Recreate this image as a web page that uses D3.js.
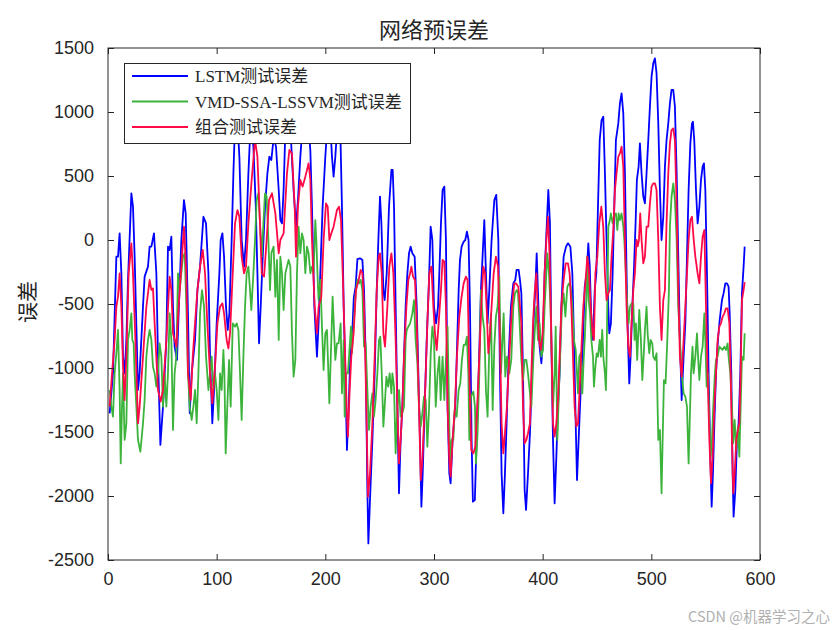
<!DOCTYPE html>
<html>
<head>
<meta charset="utf-8">
<script src="https://cdn.jsdelivr.net/npm/d3@7"></script>
<style>
  body { margin: 0; background: #fff; }
  svg text { fill: #262626; }
</style>
</head>
<body>
<div id="chart"></div>
<script>
// error series as [sample index, error]
const lstmErr = [
  [1.5,-1354],[4.6,-1042],[6.7,-417],[7.7,-130],[9.2,-130],[10.7,52],[12.3,-260],[13.8,-911],[15.3,-1042],[16.9,-781],[18.4,-312],[21.5,365],[23,260],[24.5,-130],[27.6,-1172],[29.1,-1042],[32.2,-521],[33.7,-286],[36.8,-208],[38.3,-52],[39.9,-52],[42.3,52],[44.5,-260],[46,-911],[48.2,-1601],[50.6,-1302],[53.7,-781],[55.2,-52],[56.7,-78],[58.3,26],[59.8,-521],[61.3,-833],[63.5,-937],[65,-573],[67.5,0],[69.9,312],[71.5,208],[73.6,-573],[75.2,-1354],
  [77,-1042],[80.1,-781],[82.3,-391],[84.7,-208],[87.8,182],[90.2,130],[92.4,-260],[93.9,-911],[96,-1432],[97.6,-1172],[100,-651],[102.5,-260],[103.7,0],[105.3,52],[106.8,-130],[108.6,-521],[110.2,-703],[111.7,-573],[113.8,0],[115.4,521],[116.9,911],[118.4,1050],[120.9,650],[123,0],[125.2,-208],[127,0],[129.2,521],[131.3,920],[133.8,730],[136,260],[137.5,-260],[139,-807],[140.5,-521],[142.4,-130],[144.5,260],[146.7,521],[148.5,651],[150.3,625],
  [152.5,800],[154.6,729],[157.1,391],[158.6,156],[160.1,130],[161.6,391],[163.2,850],[165.6,1000],[168,850],[170.8,391],[173,104],[174.8,312],[177,651],[179.1,900],[181.6,950],[184.6,880],[186.2,700],[187.7,260],[189.9,-521],[192.3,-911],[193.8,-651],[195.4,-260],[197.5,260],[200,651],[201.5,850],[204.6,900],[206.1,651],[207.6,495],[209.2,651],[210.7,850],[213.8,850],[215.3,260],[216.9,-521],[218.4,-1042],[219.9,-1640],[221.5,-1302],[223,-911],[224.5,-781],
  [226.2,-450],[227.9,-365],[229.5,-150],[231.9,-143],[234.1,-156],[235.6,-391],[237.1,-911],[238.7,-1953],[239.6,-2370],[241.1,-2031],[243.3,-1562],[245.4,-1042],[247.3,-391],[248.8,0],[250.3,339],[251.6,130],[253.4,-391],[254.6,-469],[256.5,-260],[258.6,260],[260.8,547],[262,547],[263.2,260],[264.7,-521],[266.3,-1302],[267.8,-1979],[269.3,-1562],[270.9,-1302],[272.4,-911],[273.9,-521],[275.5,-260],[277,-104],[278.5,-52],[280.1,-104],[282.2,-130],[284.1,-521],[285.6,-1042],[287.1,-1562],[288.4,-2083],[289.6,-1823],[291.4,-1302],[293.3,-781],[295.4,-312],[296.9,104],[298.5,0],[300,-521],
  [301.9,-651],[303.7,-521],[304.9,-260],[306.4,130],[307.9,391],[309.5,417],[311,0],[312.5,-1302],[314.1,-1823],[315.3,-1901],[317.1,-1562],[319.6,-1302],[321.4,-781],[322.7,-391],[323.9,-156],[325.4,-52],[327.3,-13],[328.8,0],[330.3,65],[331.8,0],[333.1,-521],[334.6,-1562],[335.8,-2044],[337.6,-2031],[339.2,-1562],[341.1,-1042],[343.2,-391],[344.7,-130],[346.3,156],[347.8,-260],[349.3,-651],[350.9,-391],[353,0],[355.5,312],[357.3,352],[359.2,0],[360.7,-1042],[362.2,-1823],[363.8,-2135],[365.3,-1823],[366.8,-1432],[368.7,-911],[370.8,-521],[373,-339],[374.8,-312],[376,-234],
  [377.9,-234],[379.1,-312],[380.4,-417],[381.9,-1042],[383.4,-1953],[384.7,-2109],[386.5,-1823],[388.3,-1510],[390.2,-1042],[391.7,-625],[393.2,-391],[394.5,-104],[395.7,-417],[397.2,-833],[398.8,-963],[400.3,-781],[401.8,-260],[403.7,104],[405.2,391],[406.7,130],[408,-781],[409.5,-1562],[411,-2057],[412.6,-1693],[414.1,-1302],[415.6,-1042],[417.2,-521],[419.3,-130],[421.5,-52],[423.3,-26],[425.5,-52],[427.3,-260],[428.8,-781],[430.4,-1432],[431.6,-1875],[433.1,-1562],[435,-1172],[437.1,-781],[438.7,-365],[440.5,-260],[442,-26],[443.3,-200],[444.8,-625],[446.3,-781],[447.9,-391],[449.4,-260],[450.9,260],[452.5,781],
  [454.2,937],[455.8,963],[457.3,521],[458.8,0],[460.4,-521],[461.3,-729],[462.8,-651],[464.4,-260],[465.9,260],[467.4,781],[469.6,911],[471.1,1068],[472.6,1146],[474.2,989],[475.7,521],[477.2,-260],[478.5,-781],[479.7,-1120],[480.9,-911],[482.5,-521],[484,-234],[485.5,130],[486.7,469],[488.3,573],[489.5,755],[491,521],[492.6,339],[494.1,286],[495.6,521],[497.2,781],[498.7,1042],[500.2,1276],[501.8,1380],[503.3,1419],[504.8,1302],[506.4,911],[507.9,391],[509.4,0],[511,182],[512.5,573],[514,781],[515.6,911],[517.1,1068],[518.6,1172],[520.2,1172],[521.7,1042],[523.3,521],[524.8,-130],[526.3,-781],[527.9,-1250],
  [529.7,-911],[531.3,-651],[532.8,-130],[534.3,391],[535.9,755],[537.4,911],[538.3,924],[539.5,781],[541.1,391],[542.6,130],[544.2,260],[545.7,469],[547.2,573],[548.4,599],[549.7,391],[551.2,-260],[552.7,-1042],[554.3,-1693],[555.5,-2083],[556.7,-1823],[558,-1432],[559.5,-1042],[561.3,-781],[562.9,-625],[565,-469],[566.5,-417],[568.1,-339],[569.6,-339],[571.1,-365],[572.1,-573],[573.6,-1042],[574.8,-1823],[575.7,-2161],[577.3,-1953],[578.8,-1562],[580.3,-1432],[581.9,-1042],[583.4,-417],[584.9,-208],[585.9,-52]
];

const vmdErr = [
  [1.5,-1172],[3.1,-1302],[4.6,-1380],[6.1,-1042],[7.7,-885],[9.2,-703],[10.7,-1172],[11.7,-1745],[12.9,-1302],[13.8,-1042],[15.3,-1562],[16.9,-1432],[18.4,-781],[19.9,-703],[21.5,-573],[22.4,-781],[23.6,-807],[24.5,-1042],[26.1,-1302],[27.6,-1562],[29.8,-1654],[32.2,-1432],[33.7,-1250],[35.3,-911],[36.8,-781],[38.3,-703],[39.9,-781],[41.4,-990],[42.9,-1042],[44.5,-1146],[46,-1042],[47.5,-807],[49.1,-911],[50.6,-1302],[52.1,-1042],[53.7,-1302],[55.2,-1042],[56.7,-573],[58.3,-781],[59.8,-1484],[61.3,-1042],[62.9,-911],[64.4,-260],[66,-391],[67.5,-260],[69,-130],[70.6,-104],[72.1,-521],[73.6,-1042],[75.2,-1302],
  [77,-1406],[78.6,-1300],[80.1,-1172],[81.6,-1432],[83.2,-1042],[84.7,-573],[86.5,-391],[88.4,-521],[90.2,-911],[92.4,-1172],[93.9,-1042],[95.4,-911],[97,-1172],[98.5,-1042],[100,-1172],[101.6,-1406],[103.1,-1042],[104.6,-1172],[106.2,-859],[107.1,-1042],[108.3,-1667],[109.8,-1302],[111.4,-937],[112.9,-1302],[114.8,-651],[116.9,-677],[118.4,-651],[120,-703],[121.5,-1042],[123,-1406],[124.6,-911],[126.1,-521],[127.6,-260],[129.2,-208],[130.7,-391],[131.9,-547],[133.8,-260],[135.3,0],[136.8,312],[138.4,365],[139.9,130],[141.5,-130],[143,130],[144.5,365],[146,339],[147.6,0],[149.1,-391],[150.4,-100],
  [152.4,-52],[154,-443],[155.5,-156],[157.1,-781],[158.6,-130],[160.1,-260],[161.6,-547],[163.2,-260],[164.7,-208],[166.2,-156],[167.8,-208],[169.3,-729],[170.8,-1068],[172.4,-937],[173.9,-260],[175.4,104],[177,-104],[178.5,52],[180,0],[181.6,-260],[183.1,-52],[184.6,-104],[186.2,-260],[187.7,-208],[189.2,-260],[190.8,156],[191.7,0],[193,-312],[193.8,-469],[195.4,-312],[196.9,-677],[198.4,-1016],[200,-729],[201.5,-703],[203.7,-1276],[205.5,-781],[206.7,-443],[208,-703],[209.2,-937],[210.7,-807],[212.2,-807],[214.1,-651],[215.3,-1198],[216.9,-781],[217.8,-1380],[219,-1042],[220.8,-1042],[222,-885],[223.6,-677],[224.5,-885],[226,-677],
  [227.9,-417],[229.5,-312],[231,-339],[232.5,-312],[234.1,-391],[235.6,-833],[237.1,-807],[238.7,-1172],[240.2,-1484],[241.7,-1302],[243.3,-1198],[244.8,-1380],[246.3,-1250],[247.9,-1042],[249.4,-781],[250.6,-755],[251.9,-1042],[253.4,-1458],[254.6,-1302],[256.2,-1068],[257.7,-1146],[259.2,-1042],[260.8,-1198],[261.7,-1042],[263.2,-1146],[264.7,-1667],[266.3,-1302],[267.8,-1172],[269.3,-1380],[270.9,-1354],[272.4,-1302],[273.9,-781],[274.9,-703],[276.4,-677],[278,-651],[280.1,-573],[281.6,-469],[283.1,-781],[284.7,-963],[286.2,-1302],[287.8,-1458],[289.3,-1354],[290.8,-1224],[292.4,-1250],[293.9,-1615],[295.4,-1328],[297,-885],[298.5,-677],[300,-781],[301.6,-1302],
  [303.3,-1042],[304.9,-911],[306.1,-1250],[307.9,-911],[309.5,-1250],[311,-937],[312.5,-677],[314.7,-1745],[316.2,-1562],[317.8,-1562],[319,-1328],[320.8,-1380],[322.7,-1172],[324.2,-1120],[325.7,-937],[327.3,-820],[328.8,-820],[330.3,-755],[331.6,-1042],[332.5,-1562],[334,-1224],[336.2,-1185],[337.7,-1302],[338.6,-1745],[340.1,-1510],[341.7,-1042],[343.2,-391],[344.7,-599],[346.3,-703],[347.8,-1172],[349.3,-1380],[350.9,-833],[352.4,-573],[354,-1328],[355.5,-833],[357,-599],[358.5,-521],[360.1,-286],[361.6,-1042],[364.1,-573],[365.6,-1068],[367.1,-911],[369.3,-1042],[371.1,-937],[373,-521],[374.5,-417],[376.3,-391],
  [377.3,-417],[378.8,-651],[380.4,-937],[381.9,-1094],[383.4,-937],[385,-937],[386.5,-1042],[388,-1172],[389.6,-1302],[391.1,-990],[392.6,-729],[394.2,-521],[395.7,-781],[397.2,-651],[398.8,-911],[400.3,-859],[401.8,-521],[403.4,-260],[404.3,-104],[405.8,-260],[407,-469],[408,-781],[409.5,-1302],[411,-1042],[412,-677],[413.5,-1562],[415,-1172],[416.6,-781],[417.8,-521],[419.3,-417],[420.9,-599],[422.7,-365],[424.2,-339],[425.8,-365],[427.3,-521],[428.8,-781],[430.4,-859],[431.6,-1042],[432.5,-1198],[433.7,-911],[435,-885],[436.5,-1198],[437.7,-937],[438.7,-781],[440.2,-469],[441.1,-130],[442.3,-469],[443.6,-573],[444.8,-781],[446.3,-911],[447.2,-1146],[448.5,-990],[449.7,-885],[450.9,-911],[452.5,-781],
  [453.6,-911],[454.8,-703],[455.8,-911],[457.3,-1042],[458.2,-1172],[458.8,-937],[460.4,104],[461.9,156],[462.8,208],[464.4,130],[465.6,182],[467.4,208],[468.7,78],[469.9,208],[471.1,156],[472.6,208],[474.2,104],[475.1,0],[476.6,-260],[477.9,-521],[479.1,-651],[480.3,-521],[481.8,-495],[483.4,-495],[484.6,-781],[485.8,-651],[487,-937],[488.9,-547],[490.4,-781],[491.7,-1094],[492.9,-911],[494.1,-703],[495.6,-521],[496.6,-729],[498.1,-885],[499.3,-781],[500.9,-807],[501.8,-911],[503.3,-937],[504.8,-885],[506.4,-1562],[507.9,-1484],[509.4,-1979],[510.4,-1562],[511.6,-1094],[513.1,-1120],[514.7,-781],[516.2,-391],[517.1,104],[518.6,339],[520.2,443],[521.7,312],[523.3,0],[524.8,-521],[526.3,-781],[527.9,-1042],
  [529.7,-1198],[531.3,-1224],[532.8,-1302],[534.3,-1745],[535.3,-1432],[536.5,-1042],[537.9,-833],[538.9,-1042],[540.5,-911],[542,-729],[543,-911],[544.2,-1094],[545.7,-911],[547.2,-833],[548.8,-573],[549.7,-781],[550.9,-1146],[552.1,-1042],[553.4,-1432],[554.6,-1693],[555.8,-1562],[557,-1302],[558.3,-1068],[559.5,-937],[561,-911],[562.6,-833],[564.1,-846],[565.6,-859],[567.2,-833],[568.7,-859],[570.2,-807],[571.1,-911],[572.7,-1042],[574.2,-1302],[575.4,-1588],[576.7,-1406],[578.2,-1640],[579.7,-1458],[581,-1693],[582.2,-1302],[583.4,-911],[584.9,-937],[585.9,-729]
];

const comboErr = [
  [1.5,-1302],[3.7,-1042],[6.1,-781],[7.7,-521],[9.2,-443],[10.7,-260],[12.3,-521],[13.8,-990],[15.3,-1250],[16.9,-911],[19,-260],[21.5,-26],[23,-260],[25.2,-781],[27.6,-1432],[29.1,-1302],[32.2,-911],[35.3,-521],[38.3,-312],[39.9,-390],[41.4,-378],[42.9,-651],[46,-1172],[48.5,-1263],[50.6,-1172],[53.7,-781],[56.7,-286],[58.3,-390],[59.8,-729],[62.9,-833],[65,-521],[67.5,-208],[69.9,104],[72.1,-260],[73.6,-1042],[76.1,-1250],
  [78,-911],[80.1,-651],[82.3,-391],[84.7,-208],[87.2,-78],[89.3,-260],[91.4,-651],[93.9,-1042],[96,-1276],[98.5,-990],[100.7,-651],[103.1,-521],[105.3,-495],[106.8,-573],[109.2,-781],[110.8,-846],[112.3,-729],[114.8,-260],[116.9,130],[119.1,234],[120.9,182],[123,-130],[125.2,-260],[127,-208],[129.2,130],[132.2,469],[135.3,781],[137.5,651],[139.3,260],[141.5,-260],[143.6,-286],[146,0],[148.2,312],[150.9,365],
  [154,208],[157.1,-104],[158.6,0],[161.6,52],[164.7,521],[166.9,703],[169.3,677],[171.8,260],[173,-130],[174.8,260],[177,469],[179.1,417],[181.6,495],[184.6,599],[186.2,469],[187.7,0],[190.2,-521],[192.3,-729],[193.8,-521],[196.3,-443],[198.4,0],[200.6,286],[202.2,260],[203.7,0],[205.5,52],[207.6,104],[210.7,234],[212.6,260],[214.4,156],[216,-260],[217.8,-781],[219.6,-1302],[220.8,-1536],[222.4,-1172],[223.9,-911],[226,-729],
  [228.2,-391],[230.7,-312],[232.5,-234],[234.1,-260],[235.6,-521],[237.1,-1042],[239.3,-2005],[241.1,-1823],[243.3,-1432],[245.4,-911],[247.3,-391],[249.1,-130],[250.3,-104],[251.9,-260],[253.4,-729],[254.9,-833],[257.1,-521],[258.9,-208],[260.8,-104],[262.6,-260],[264.7,-781],[266.3,-1302],[267.8,-1745],[269.3,-1562],[270.9,-1302],[272.4,-911],[274.6,-521],[276.4,-312],[278,-260],[279.2,-208],[280.7,-286],[282.5,-312],[284.1,-651],[286.2,-1302],[287.8,-1875],[289.3,-1719],[291.4,-1302],[293.9,-651],[295.7,-260],[297.6,-208],[299.4,-521],[300.9,-729],
  [302.5,-860],[304.9,-573],[306.4,-391],[307.9,-156],[309.5,-169],[311,-521],[312.5,-1302],[314.1,-1719],[315.3,-1849],[317.1,-1562],[319.3,-1302],[321.1,-911],[323.3,-599],[325.4,-443],[327.3,-339],[329.4,-286],[330.9,-312],[332.5,-1042],[334.3,-1640],[336.2,-1667],[338,-1615],[339.8,-1302],[341.7,-911],[343.5,-521],[345.4,-208],[346.9,-260],[348.4,-521],[350,-885],[351.5,-729],[353,-521],[354.9,-260],[357,-130],[358.9,-208],[360.7,-781],[362.2,-1432],[363.8,-1667],[365.3,-1510],[367.1,-1302],[369.3,-911],[371.7,-521],[373.9,-339],[375.4,-339],[377.6,-365],
  [380.4,-651],[381.9,-1302],[383.4,-1588],[385,-1562],[386.5,-1510],[388.3,-1432],[389.6,-1042],[391.1,-651],[392.6,-417],[394.2,-260],[395.1,-470],[396.6,-781],[398.2,-859],[400,-729],[401.8,-260],[403.4,0],[404.9,182],[406.4,-130],[408,-781],[409.5,-1432],[411,-1536],[412.6,-1432],[414.1,-1250],[415.6,-911],[417.2,-521],[419.3,-312],[421.2,-182],[423.3,-182],[424.8,-260],[426.4,-521],[427.9,-911],[429.4,-1302],[431,-1458],[432.5,-1432],[434,-1172],[435.6,-859],[437.4,-521],[439.3,-339],[441.1,-130],[442.3,-208],[444.2,-521],[446,-729],[447.2,-781],[448.5,-260],[450.3,-130],[452.1,130],
  [454,260],[455.8,100],[457.3,-260],[458.8,-469],[460.4,-417],[461.9,-391],[463.4,-130],[465,78],[466.5,391],[468,521],[469.6,651],[471.1,677],[472.6,729],[474.2,573],[475.7,0],[477.2,-521],[478.8,-833],[480.3,-911],[481.8,-651],[483.4,-391],[484.9,-260],[486.4,0],[487.5,-50],[488.6,0],[489.8,208],[491,0],[492.6,-182],[494.1,-130],[495.6,104],[497.2,104],[498.7,286],[500.2,417],[501.8,443],[503.3,443],[504.8,391],[506.4,0],[507.9,-521],[509.4,-781],[511,-469],[512.5,-391],[514,130],[515.6,521],[517.1,755],[518.6,859],[520.2,872],[521.7,781],[523.3,260],[524.8,-391],[526.3,-911],[527.9,-1068],
  [529.7,-781],[531.3,-521],[532.8,-260],[534.3,0],[535.9,156],[537.4,182],[539,0],[540.5,-130],[542.6,-260],[544.2,-339],[545.7,-130],[547.2,26],[548.8,78],[550.3,-521],[551.8,-1042],[553.4,-1562],[554.9,-1901],[556.4,-1693],[558,-1302],[559.5,-1042],[561,-781],[562.6,-677],[564.1,-651],[565.6,-599],[567.2,-573],[568.7,-534],[570.2,-534],[571.8,-651],[573,-1042],[574.2,-1562],[575.4,-1979],[576.7,-1823],[578.2,-1562],[579.7,-1484],[581,-1432],[582.2,-1042],[583.4,-469],[584.9,-391],[585.9,-330]
];

const seriesNames = ['LSTM测试误差', 'VMD-SSA-LSSVM测试误差', '组合测试误差'];
const seriesColours = ['#0000ff', '#3cb43c', '#ff0a46'];
const xTicks = [0, 100, 200, 300, 400, 500, 600];
const yTicks = [-2500, -2000, -1500, -1000, -500, 0, 500, 1000, 1500];

const config = {
  width: 840, height: 630,
  margin: { top: 48, right: 80, bottom: 70, left: 108 },
  tickLen: 6,
  axisColour: '#262626'
};
const innerW = config.width - config.margin.left - config.margin.right;
const innerH = config.height - config.margin.top - config.margin.bottom;

const svg = d3.select('#chart').append('svg')
  .attr('width', config.width)
  .attr('height', config.height);

svg.append('rect').attr('width', config.width).attr('height', config.height).attr('fill', '#fff');

const chart = svg.append('g')
  .attr('transform', `translate(${config.margin.left},${config.margin.top})`);

const x = d3.scaleLinear().domain([0, 600]).range([0, innerW]);
const y = d3.scaleLinear().domain([-2500, 1500]).range([innerH, 0]);

chart.append('clipPath').attr('id', 'plot-clip')
  .append('rect').attr('width', innerW).attr('height', innerH);

// lines, LSTM first so the combined error ends up on top
const line = d3.line().x(d => x(d[0])).y(d => y(d[1]));
const lines = chart.append('g').attr('clip-path', 'url(#plot-clip)');
[lstmErr, vmdErr, comboErr].forEach((s, i) => {
  lines.append('path')
    .datum(s)
    .attr('d', line)
    .attr('fill', 'none')
    .attr('stroke', seriesColours[i])
    .attr('stroke-width', 1.8)
    .attr('stroke-linejoin', 'round');
});

// axes with inward ticks on every side (matlab box style)
const tickFont = "'Liberation Sans', Arial, sans-serif";
const styleAxis = g => {
  g.select('.domain').remove();
  g.selectAll('line').attr('stroke', config.axisColour);
  g.selectAll('text').attr('font-family', tickFont).attr('font-size', 18).attr('fill', config.axisColour);
};

chart.append('g')
  .attr('transform', `translate(0,${innerH})`)
  .call(d3.axisBottom(x).tickValues(xTicks).tickSizeInner(-config.tickLen).tickPadding(12).tickSizeOuter(0))
  .call(styleAxis);

chart.append('g')
  .call(d3.axisLeft(y).tickValues(yTicks).tickSizeInner(-config.tickLen).tickPadding(14).tickSizeOuter(0)
    .tickFormat(d => String(d).replace('−', '-')))
  .call(styleAxis);

chart.append('g')
  .call(d3.axisTop(x).tickValues(xTicks).tickSizeInner(-config.tickLen).tickSizeOuter(0).tickFormat(''))
  .call(styleAxis);

chart.append('g')
  .attr('transform', `translate(${innerW},0)`)
  .call(d3.axisRight(y).tickValues(yTicks).tickSizeInner(-config.tickLen).tickSizeOuter(0).tickFormat(''))
  .call(styleAxis);

chart.append('rect')
  .attr('width', innerW).attr('height', innerH)
  .attr('fill', 'none')
  .attr('stroke', config.axisColour)
  .attr('stroke-width', 1);

// title and y label
svg.append('text')
  .attr('x', config.margin.left + innerW / 2)
  .attr('y', 38)
  .attr('text-anchor', 'middle')
  .attr('font-family', "'Noto Sans CJK SC', sans-serif")
  .attr('font-size', 22)
  .text('网络预误差');

svg.append('text')
  .attr('transform', `translate(35,${config.margin.top + innerH / 2 - 2}) rotate(-90)`)
  .attr('text-anchor', 'middle')
  .attr('font-family', "'Noto Sans CJK SC', sans-serif")
  .attr('font-size', 21)
  .text('误差');

// legend, opaque box drawn over the lines
const legend = svg.append('g').attr('class', 'legend').attr('transform', 'translate(124.5,63.5)');
legend.append('rect')
  .attr('width', 286).attr('height', 80)
  .attr('fill', '#fff')
  .attr('stroke', config.axisColour)
  .attr('stroke-width', 1);

seriesNames.forEach((name, i) => {
  const ly = 12.5 + i * 25.5;
  legend.append('line')
    .attr('x1', 7.5).attr('x2', 63.5)
    .attr('y1', ly).attr('y2', ly)
    .attr('stroke', seriesColours[i])
    .attr('stroke-width', 1.8);
  legend.append('text')
    .attr('x', 70.5).attr('y', ly + 6)
    .attr('font-family', "'Liberation Serif', 'Noto Sans CJK SC', serif")
    .attr('font-size', 17)
    .text(name);
});

// watermark
svg.append('text')
  .attr('x', 830).attr('y', 622)
  .attr('text-anchor', 'end')
  .attr('font-family', "'Noto Sans CJK SC', sans-serif")
  .attr('font-size', 14.5)
  .style('fill', '#b0b0b0')
  .text('CSDN @机器学习之心');
</script>
</body>
</html>
